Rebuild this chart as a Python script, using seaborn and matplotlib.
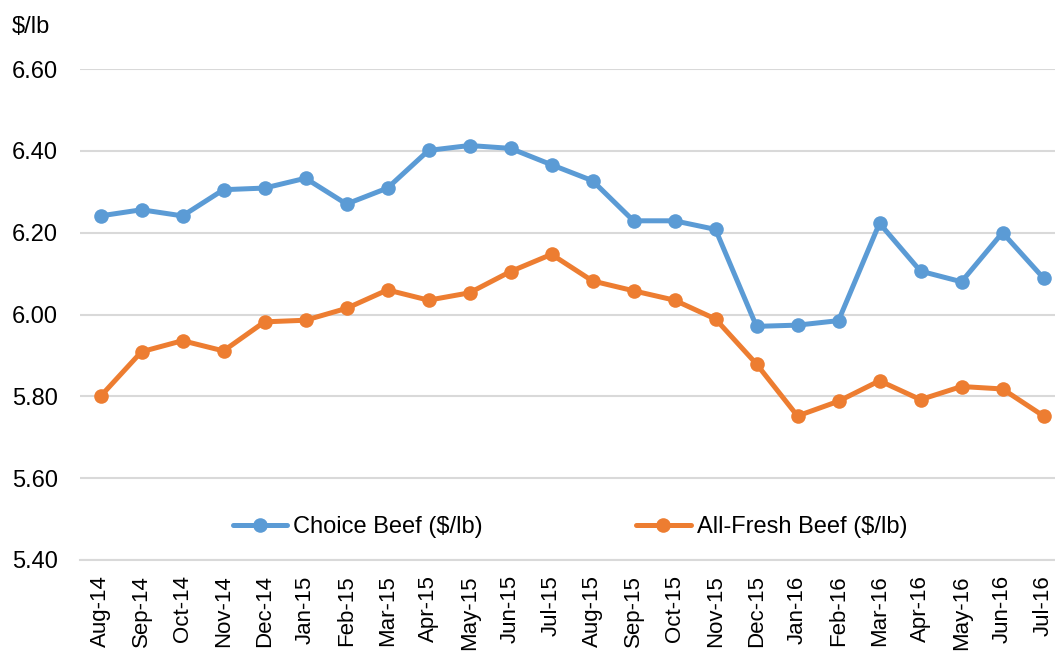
import matplotlib
matplotlib.use("Agg")
import matplotlib.pyplot as plt
import seaborn as sns
import pandas as pd

# Monthly retail beef prices
months = ["Aug-14", "Sep-14", "Oct-14", "Nov-14", "Dec-14", "Jan-15", "Feb-15", "Mar-15",
          "Apr-15", "May-15", "Jun-15", "Jul-15", "Aug-15", "Sep-15", "Oct-15", "Nov-15",
          "Dec-15", "Jan-16", "Feb-16", "Mar-16", "Apr-16", "May-16", "Jun-16", "Jul-16"]
choice_beef = [6.241, 6.256, 6.241, 6.305, 6.309, 6.333, 6.270, 6.309,
               6.401, 6.413, 6.406, 6.366, 6.327, 6.229, 6.229, 6.208,
               5.971, 5.974, 5.985, 6.223, 6.106, 6.080, 6.200, 6.089]
all_fresh_beef = [5.800, 5.909, 5.936, 5.911, 5.982, 5.986, 6.015, 6.060,
                  6.035, 6.053, 6.105, 6.147, 6.082, 6.058, 6.035, 5.989,
                  5.879, 5.752, 5.788, 5.838, 5.792, 5.824, 5.818, 5.752]
series_names = ["Choice Beef ($/lb)", "All-Fresh Beef ($/lb)"]
y_ticks = [5.40, 5.60, 5.80, 6.00, 6.20, 6.40, 6.60]

sns.set_style("white")
plt.rcParams["font.family"] = ["Liberation Sans", "DejaVu Sans"]
plt.rcParams["text.color"] = "black"
plt.rcParams["xtick.color"] = "black"
plt.rcParams["ytick.color"] = "black"

df = pd.DataFrame({
    "month": months * 2,
    "idx": list(range(len(months))) * 2,
    "price": choice_beef + all_fresh_beef,
    "series": [series_names[0]] * len(months) + [series_names[1]] * len(months),
})

fig = plt.figure(figsize=(10.55, 6.51), dpi=100)
ax = fig.add_axes([80 / 1055, 1 - 560 / 651, 984 / 1055, 491 / 651])

sns.lineplot(data=df, x="idx", y="price", hue="series", ax=ax,
             palette=["#5B9BD5", "#ED7D31"], marker="o", markersize=10.5,
             markeredgewidth=0, linewidth=3.6, sort=False)

ax.set_xlim(-0.5, len(months) - 0.5)
ax.set_ylim(5.40, 6.60)
ax.set_yticks(y_ticks)
ax.set_yticklabels([f"{v:.2f}" for v in y_ticks], fontsize=17)
ax.set_xticks(range(len(months)))
ax.set_xticklabels(months, rotation=90, fontsize=16)
ax.set_xticks([i - 0.5 for i in range(len(months) + 1)], minor=True)
ax.tick_params(axis="x", which="major", length=0, pad=11)
ax.tick_params(axis="x", which="minor", length=6, color="#D9D9D9", width=1.5)
ax.tick_params(axis="y", length=0, pad=16)
ax.set_xlabel("")
ax.set_ylabel("")

ax.yaxis.grid(True, color="#D9D9D9", linewidth=1.5)
ax.set_axisbelow(True)
for side in ["top", "right", "left"]:
    ax.spines[side].set_visible(False)
ax.spines["bottom"].set_color("#D9D9D9")
ax.spines["bottom"].set_linewidth(1.5)

ax.legend(loc="center", bbox_to_anchor=(0.498, 0.067), ncol=2, frameon=False,
          fontsize=17, handlelength=2.3, columnspacing=6.5, handletextpad=0.25)

fig.text(12 / 1055, 1 - 27 / 651, "$/lb", fontsize=17, va="center", ha="left")

fig.savefig("out.png", dpi=100)
